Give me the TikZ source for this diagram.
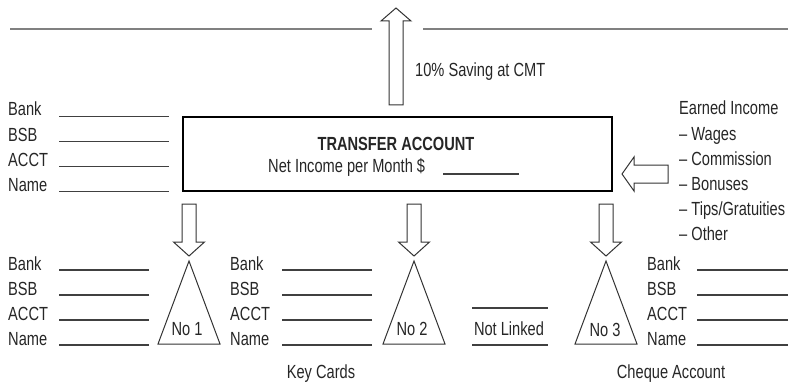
\documentclass[tikz,border=0pt]{standalone}
\usepackage{fontspec}
\setmainfont{Liberation Sans}[FakeStretch=0.77]
\begin{document}
\begin{tikzpicture}[x=1pt,y=-1pt,
  txt/.style={inner sep=0pt,anchor=base west,text=black!85,font=\fontsize{19}{22}\selectfont},
  ctxt/.style={txt,anchor=base},
  formline/.style={draw=black!75,line width=1.1pt},
  rule/.style={draw=black!50,line width=1.6pt},
  outline/.style={draw=black!80,line width=1pt,line join=miter},
  boxline/.style={draw=black,line width=2pt},
  downarrow/.pic={\draw[outline] (-7,0) -- (7,0) -- (7,38) -- (15.5,38) -- (0,52) -- (-15.5,38) -- (-7,38) -- cycle;},
  cone/.pic={\draw[outline] (0,0) -- (31,83) -- (-31,83) -- cycle;}
]
\useasboundingbox (0,0) rectangle (797,385);

% horizontal rules at the top
\draw[rule] (10,29) -- (372,29);
\draw[rule] (423,29) -- (788,29);

% savings arrow pointing up
\draw[outline] (389,105) -- (389,21) -- (381,21) -- (396,8) -- (411,21) -- (403,21) -- (403,105) -- cycle;
\node[txt] (saving) at (415,77) {10\% Saving at CMT};

% transfer account box
\node[boxline,minimum width=429pt,minimum height=74pt,inner sep=0pt] (transfer) at (397.5,154) {};
\node[ctxt,font=\fontsize{19}{22}\selectfont\bfseries] (title) at (396,150) {TRANSFER ACCOUNT};
\node[txt] (netincome) at (268,172) {Net Income per Month \$};
\draw[formline] (443,174) -- (519,174);

% source account details
\foreach \lab/\yy [count=\i] in {Bank/116,BSB/141,ACCT/166,Name/191}{
  \node[txt] (src\i) at (8,\yy) {\lab};
  \draw[formline] (59,\yy+0.5) -- (169,\yy+0.5);
}

% earned income feeding in
\draw[outline] (668,165) -- (634,165) -- (634,157) -- (622,174) -- (634,191) -- (634,183) -- (668,183) -- cycle;
\node[txt] (inc1) at (679,115) {Earned Income};
\node[txt] (inc2) at (679,140) {-- Wages};
\node[txt] (inc3) at (679,165) {-- Commission};
\node[txt] (inc4) at (679,190) {-- Bonuses};
\node[txt] (inc5) at (679,215) {-- Tips/Gratuities};
\node[txt] (inc6) at (679,240) {-- Other};

% three outgoing accounts
\pic at (189,204) {downarrow};
\pic at (414,204) {downarrow};
\pic at (606,204) {downarrow};
\pic at (189,261) {cone};
\pic at (414,261) {cone};
\pic at (606,261) {cone};
\node[ctxt] (no1) at (187,335) {No 1};
\node[ctxt] (no2) at (412,335) {No 2};
\node[ctxt] (no3) at (605,336) {No 3};

% account details beside each card
\foreach \xl/\xa/\xb/\nm in {8/59/149/a,230/282/372/b,647/697/788/c}{
  \foreach \lab/\yy [count=\i] in {Bank/270,BSB/295,ACCT/320,Name/345}{
    \node[txt] (\nm\i) at (\xl,\yy) {\lab};
    \draw[formline] (\xb,\yy) -- (\xa,\yy);
  }
}

% not linked placeholder
\draw[formline] (472,308) -- (548,308);
\draw[formline] (472,345) -- (548,345);
\node[ctxt] (notlinked) at (509,335) {Not Linked};

% captions
\node[ctxt] (keycards) at (321,378) {Key Cards};
\node[ctxt] (cheque) at (671,378) {Cheque Account};
\end{tikzpicture}
\end{document}
